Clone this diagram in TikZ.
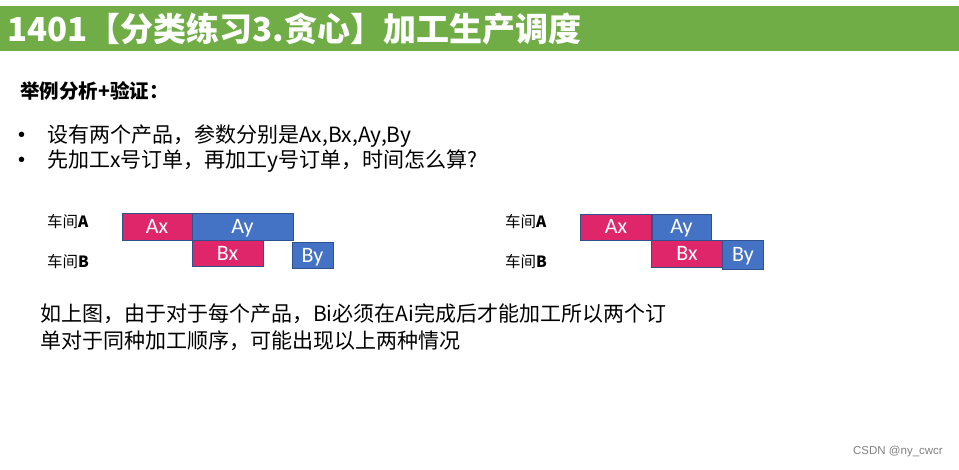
\documentclass[tikz,border=0pt]{standalone}
\usepackage{fontspec}
\setmainfont{Noto Sans CJK SC}
\newfontfamily\boxfont{Carlito}
\newfontfamily\markfont{Liberation Sans}
\usepackage{tikz}
\usetikzlibrary{ positioning, % For easy node-relative placements
               }

\definecolor{barGreen}{HTML}{70AD47}
\definecolor{jobPink}{HTML}{E0266B}
\definecolor{jobBlue}{HTML}{4472C4}
\definecolor{jobLine}{HTML}{2F528F}

\tikzset{
  job/.style={draw=jobLine, line width=0.8pt, inner sep=0pt, text=white,
              text height=14pt, text depth=0pt,
              font=\boxfont\fontsize{22}{22}\selectfont},
  pinkjob/.style={job, fill=jobPink},
  bluejob/.style={job, fill=jobBlue},
  shop/.style={anchor=west, inner sep=0pt, font=\fontsize{15.5}{16}\selectfont},
  body/.style={anchor=west, inner sep=0pt, font=\fontsize{21}{21}\selectfont},
  bullet/.style={anchor=west, inner sep=0pt, font=\markfont\fontsize{20}{20}\selectfont},
}

\begin{document}
\begin{tikzpicture}[x=1pt, y=-1pt]
  \useasboundingbox (0,0) rectangle (959,470);

  % title bar
  \fill[barGreen] (0,6) rectangle (959,51);
  \node[anchor=west, inner sep=0pt, text=white,
        font=\bfseries\fontsize{33}{33}\selectfont] (title) at (7,29)
        {1401【分类练习3.贪心】加工生产调度};

  \node[body, font=\bfseries\fontsize{19.5}{20}\selectfont] (head) at (20,91) {举例分析+验证：};
  \node[bullet] (dot_one) at (18,137) {•};
  \node[body] (line_one) at (47,136) {设有两个产品，参数分别是Ax,Bx,Ay,By};
  \node[bullet] (dot_two) at (18,162) {•};
  \node[body] (line_two) at (47,161) {先加工x号订单，再加工y号订单，时间怎么算?};

  % first case
  \node[shop] (shop_a) at (47,222) {车间\textbf{A}};
  \node[shop] (shop_b) at (47,262) {车间\textbf{B}};
  \node[pinkjob, minimum width=70pt, minimum height=27pt] (ax) at (157,227) {Ax};
  \node[bluejob, minimum width=101pt, minimum height=27pt] (ay) at (242.5,227) {Ay};
  \node[pinkjob, minimum width=71pt, minimum height=26pt] (bx) at (227.5,253.5) {Bx};
  \node[bluejob, minimum width=41pt, minimum height=26pt] (by) at (312.5,255.5) {By};

  % second case
  \node[shop] (shop_a_2) at (505,222) {车间\textbf{A}};
  \node[shop] (shop_b_2) at (505,262) {车间\textbf{B}};
  \node[pinkjob, minimum width=71pt, minimum height=26pt] (ax_2) at (616,227) {Ax};
  \node[bluejob, minimum width=59pt, minimum height=26pt] (ay_2) at (681.5,227) {Ay};
  \node[pinkjob, minimum width=71pt, minimum height=27pt] (bx_2) at (687,253.5) {Bx};
  \node[bluejob, minimum width=41pt, minimum height=29pt] (by_2) at (743,254.5) {By};

  \node[body] (note_one) at (40,314) {如上图，由于对于每个产品，Bi必须在Ai完成后才能加工所以两个订};
  \node[body] (note_two) at (40,341) {单对于同种加工顺序，可能出现以上两种情况};

  \node[anchor=east, inner sep=0pt, text=black!50,
        font=\markfont\fontsize{11.5}{12}\selectfont] (mark) at (943,452) {CSDN @ny\_cwcr};
\end{tikzpicture}
\end{document}
